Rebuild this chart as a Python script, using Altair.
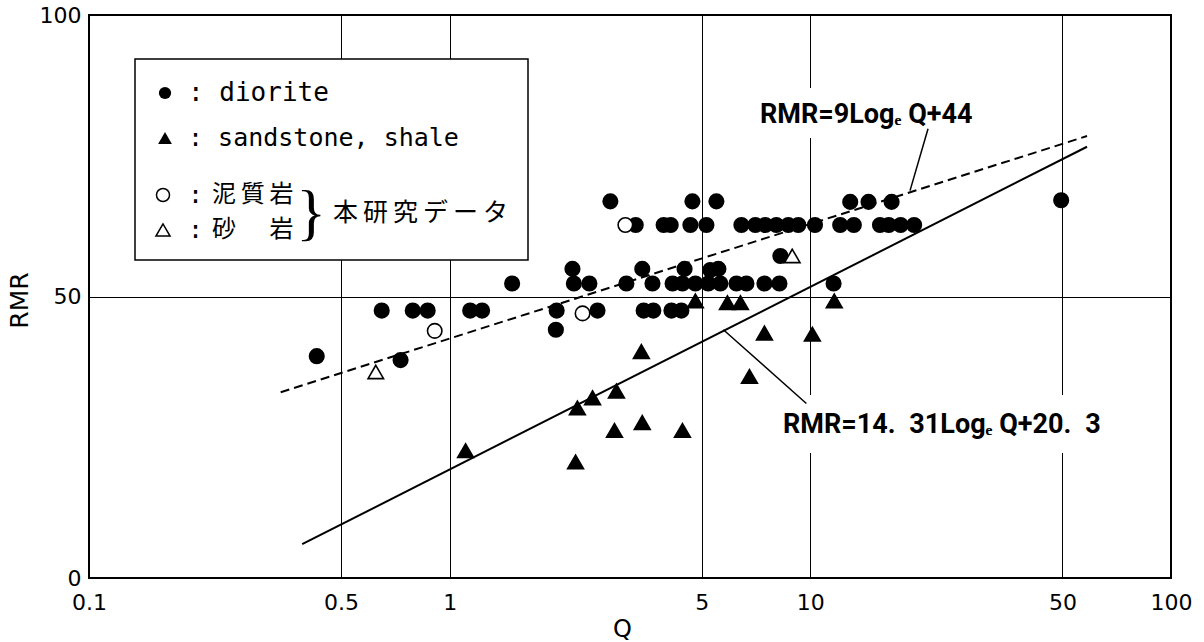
import altair as alt
import pandas as pd

# ---------------- data ----------------
# diorite (filled circles)
dio_q = [2.79, 4.71, 5.49, 12.9, 14.5, 16.8, 49.6,
         3.28, 3.92, 4.10, 4.65, 5.15, 6.44, 7.04, 7.50, 8.05, 8.69, 9.26, 10.3, 12.1, 13.2, 15.6, 16.5, 17.8, 19.4,
         8.26,
         2.19, 3.42, 4.48, 5.28, 5.56,
         1.49, 2.21, 2.44, 3.09, 3.65, 4.15, 4.42, 4.80, 5.21, 5.63, 6.24, 6.65, 7.46, 8.21, 11.6,
         0.648, 0.79, 0.869, 1.14, 1.23, 1.98, 2.57, 3.45, 3.67, 4.12, 4.39,
         1.97,
         0.428, 0.731]
dio_rmr = [66.9, 66.9, 66.9, 66.8, 66.8, 66.8, 67.1,
           62.7, 62.7, 62.7, 62.7, 62.7, 62.7, 62.7, 62.7, 62.7, 62.7, 62.7, 62.7, 62.7, 62.7, 62.7, 62.7, 62.7, 62.7,
           57.2,
           54.9, 54.9, 54.9, 54.7, 54.9,
           52.3, 52.3, 52.3, 52.3, 52.3, 52.3, 52.3, 52.3, 52.3, 52.3, 52.3, 52.3, 52.3, 52.3, 52.3,
           47.5, 47.5, 47.5, 47.5, 47.5, 47.5, 47.5, 47.5, 47.5, 47.5, 47.5,
           44.1,
           39.4, 38.7]

# sandstone, shale (filled triangles)
ss_q = [4.80, 5.89, 6.40, 11.65, 7.46, 10.13, 6.78, 3.40, 2.90, 2.49, 2.26, 1.107, 2.234, 2.864, 3.42, 4.42]
ss_rmr = [49.2, 48.9, 48.9, 49.2, 43.5, 43.3, 35.8, 40.2, 33.2, 32.0, 30.2, 22.6, 20.6, 26.2, 27.6, 26.2]

# 泥質岩 (open circles) and 砂岩 (open triangles) - this study
mud_q = [0.909, 2.336, 3.07]
mud_rmr = [43.9, 47.0, 62.7]
sand_q = [0.624, 8.91]
sand_rmr = [36.6, 57.2]

# regression lines (end points)
dash_q = [0.34, 58.5]
dash_rmr = [33.0, 78.5]
solid_q = [0.39, 58.5]
solid_rmr = [6.0, 76.6]

# leader lines to the equation labels
lead1_q = [21.2, 18.9]
lead1_rmr = [79.8, 68.8]
lead2_q = [5.74, 9.75]
lead2_rmr = [44.1, 31.0]

x_ticks = [0.1, 0.5, 1, 5, 10, 50, 100]
y_ticks = [0, 50, 100]

eq1 = "RMR=9Logₑ Q+44"
eq2 = "RMR=14.\u200231Logₑ Q+20.\u20023"

# ---------------- chart ----------------
W, H = 1082, 563
TICK_FONT = "DejaVu Sans"
MONO = "DejaVu Sans Mono"
CJK = "Noto Sans CJK JP"
EQ_FONT = "Roboto"

xenc = alt.X("Q:Q", scale=alt.Scale(type="log", domain=[0.1, 100], nice=False),
             axis=alt.Axis(values=x_ticks, format="~g", grid=True, ticks=False, domain=False,
                           gridColor="black", gridWidth=1, gridOpacity=1,
                           labelFont=TICK_FONT, labelFontSize=22, labelColor="black",
                           labelPadding=14, labelFlush=False, labelOverlap=False,
                           title="Q", titleFont=TICK_FONT, titleFontSize=24, titleFontWeight="normal",
                           titleColor="black", titleX=533, titleY=51, titleBaseline="middle",
                           titleAlign="center"))
yenc = alt.Y("RMR:Q", scale=alt.Scale(domain=[0, 100], nice=False),
             axis=alt.Axis(values=y_ticks, grid=True, ticks=False, domain=False,
                           gridColor="black", gridWidth=1, gridOpacity=1,
                           labelFont=TICK_FONT, labelFontSize=22, labelColor="black",
                           labelPadding=8, labelFlush=False, labelOverlap=False,
                           title="RMR", titleFont=TICK_FONT, titleFontSize=25, titleFontWeight="normal",
                           titleColor="black", titleX=-70, titleY=285, titleAngle=270,
                           titleBaseline="middle", titleAlign="center"))


def df(q, r):
    return pd.DataFrame({"Q": q, "RMR": r})


dummy = pd.DataFrame({"k": [0]})

# label background boxes (white, hide grid lines)
bg1 = alt.Chart(dummy).mark_rect(fill="white").encode(
    x=alt.value(666), x2=alt.value(891), y=alt.value(73), y2=alt.value(123))
bg2 = alt.Chart(dummy).mark_rect(fill="white").encode(
    x=alt.value(686), x2=alt.value(1030), y=alt.value(380), y2=alt.value(438))

dash_line = alt.Chart(df(dash_q, dash_rmr)).mark_line(
    color="black", strokeWidth=2, strokeDash=[9, 5]).encode(x=xenc, y=yenc)
solid_line = alt.Chart(df(solid_q, solid_rmr)).mark_line(
    color="black", strokeWidth=2).encode(x=xenc, y=yenc)

lead1 = alt.Chart(df(lead1_q, lead1_rmr)).mark_line(color="black", strokeWidth=1.5).encode(x=xenc, y=yenc)
lead2 = alt.Chart(df(lead2_q, lead2_rmr)).mark_line(color="black", strokeWidth=1.5).encode(x=xenc, y=yenc)

dio = alt.Chart(df(dio_q, dio_rmr)).mark_point(
    shape="circle", filled=True, fill="black", stroke="black", size=200, opacity=1).encode(x=xenc, y=yenc)
ss = alt.Chart(df(ss_q, ss_rmr)).mark_point(
    shape="triangle-up", filled=True, fill="black", stroke="black", size=230, opacity=1).encode(x=xenc, y=yenc)
mud = alt.Chart(df(mud_q, mud_rmr)).mark_point(
    shape="circle", filled=True, fill="white", stroke="black", strokeWidth=1.6, size=210,
    opacity=1).encode(x=xenc, y=yenc)
sand = alt.Chart(df(sand_q, sand_rmr)).mark_point(
    shape="triangle-up", filled=True, fill="white", stroke="black", strokeWidth=1.6, size=240,
    opacity=1).encode(x=xenc, y=yenc)

t_eq1 = alt.Chart(dummy).mark_text(text=eq1, font=EQ_FONT, fontSize=27, fontWeight="bold", align="left",
                                   baseline="middle", color="black").encode(
    x=alt.value(671), y=alt.value(100))
t_eq2 = alt.Chart(dummy).mark_text(text=eq2, font=EQ_FONT, fontSize=27, fontWeight="bold", align="left",
                                   baseline="middle", color="black").encode(
    x=alt.value(694), y=alt.value(410))

# ---- legend box ----
leg_box = alt.Chart(dummy).mark_rect(fill="white", stroke="black", strokeWidth=1.5).encode(
    x=alt.value(46), x2=alt.value(439), y=alt.value(44), y2=alt.value(245))
lg_c = alt.Chart(dummy).mark_point(shape="circle", filled=True, fill="black", size=150, opacity=1).encode(
    x=alt.value(76), y=alt.value(78))
lg_t = alt.Chart(dummy).mark_point(shape="triangle-up", filled=True, fill="black", size=190, opacity=1).encode(
    x=alt.value(76), y=alt.value(123))
lg_oc = alt.Chart(dummy).mark_point(shape="circle", filled=True, fill="white", stroke="black",
                                    strokeWidth=1.5, size=170, opacity=1).encode(
    x=alt.value(74), y=alt.value(180))
lg_ot = alt.Chart(dummy).mark_point(shape="triangle-up", filled=True, fill="white", stroke="black",
                                    strokeWidth=1.5, size=200, opacity=1).encode(
    x=alt.value(74), y=alt.value(215))


def txt(s, x, y, font, size, align="left", weight="normal"):
    return alt.Chart(dummy).mark_text(text=s, font=font, fontSize=size, align=align, fontWeight=weight,
                                      baseline="middle", color="black").encode(
        x=alt.value(x), y=alt.value(y))


lg_texts = [
    txt(": diorite", 99, 78, MONO, 26),
    txt(": sandstone, shale", 99, 123, MONO, 25),
    txt(":", 99, 180, MONO, 25),
    txt(":", 99, 215, MONO, 25),
    txt("泥\u2009質\u2009岩", 123, 180, CJK, 24),
    txt("砂\u2009\u3000\u2009岩", 123, 215, CJK, 24),
    txt("}", 222, 199, "Liberation Serif", 62, align="center"),
    txt("本\u2009研\u2009究\u2009デ\u2009ー\u2009タ", 244, 198, CJK, 25),
]

chart = alt.layer(
    bg1, bg2, dash_line, solid_line, lead1, lead2, dio, ss, mud, sand, t_eq1, t_eq2,
    leg_box, lg_c, lg_t, lg_oc, lg_ot, *lg_texts
).properties(
    width=W, height=H, autosize="none",
    padding={"left": 89, "top": 15, "right": 33, "bottom": 64},
    background="white"
).configure_view(stroke="black", strokeWidth=2)

chart.save("out.html", embed_options={"renderer": "svg", "actions": False})
